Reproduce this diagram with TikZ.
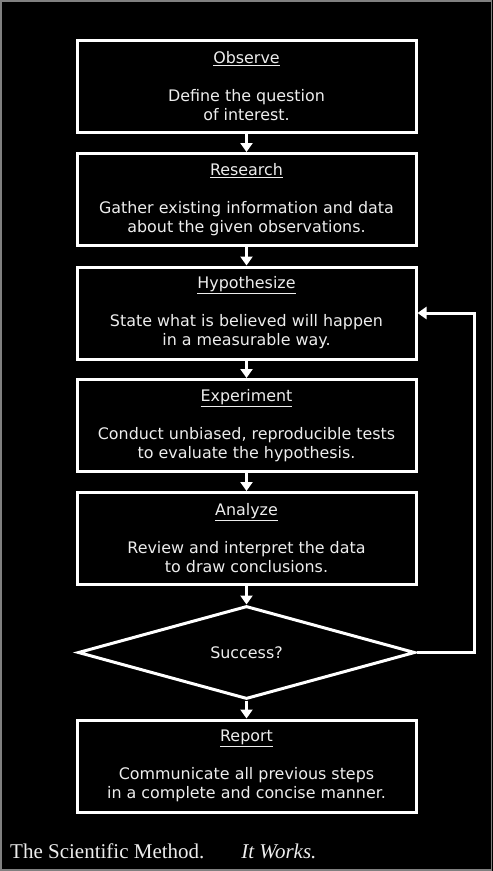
\documentclass[tikz,border=0pt]{standalone}
\usepackage{fontspec}
\setmainfont{Liberation Serif}
\newfontfamily\boxfont{DejaVu Sans}
\usetikzlibrary{shapes.geometric,arrows.meta}
\definecolor{txt}{gray}{0.93}
\tikzset{
  stepbox/.style={draw=white, line width=3pt, fill=black, minimum width=339pt, minimum height=92pt,
    align=center, text=txt, font=\boxfont\fontsize{15.9pt}{19pt}\selectfont, inner sep=0pt},
  decision/.style={draw=white, line width=3pt, diamond, minimum width=337pt, minimum height=93pt,
    text=txt, font=\boxfont\fontsize{15.9pt}{19pt}\selectfont, inner sep=0pt},
  flow/.style={draw=white, line width=3pt, -{Triangle[width=12pt,length=9pt]}},
}
\newcommand\ttl[1]{\underline{#1}\\[19pt]}
\begin{document}
\begin{tikzpicture}[x=1pt,y=-1pt]
\fill[black] (0,0) rectangle (493,871);
\draw[gray, line width=1.5pt] (0.75,0.75) rectangle (491.5,869.8);
\useasboundingbox (0,0) rectangle (493,871);
\node[stepbox] (obs) at (246.5,86) {\ttl{Observe}Define the question\\of interest.};
\node[stepbox] (res) at (246.5,199.5) {\ttl{Research}Gather existing information and data\\about the given observations.};
\node[stepbox] (hyp) at (246.5,313) {\ttl{Hypothesize}State what is believed will happen\\in a measurable way.};
\node[stepbox] (exp) at (246.5,425.5) {\ttl{Experiment}Conduct unbiased, reproducible tests\\to evaluate the hypothesis.};
\node[stepbox] (ana) at (246.5,538.5) {\ttl{Analyze}Review and interpret the data\\to draw conclusions.};
\node[decision] (suc) at (246.5,652.5) {Success?};
\node[stepbox] (rep) at (246.5,766) {\ttl{Report}Communicate all previous steps\\in a complete and concise manner.};
\draw[flow] (obs.south) -- (res.north);
\draw[flow] (res.south) -- (hyp.north);
\draw[flow] (hyp.south) -- (exp.north);
\draw[flow] (exp.south) -- (ana.north);
\draw[flow] (ana.south) -- (suc.north);
\draw[flow] (suc.south) -- (rep.north);
\coordinate (turn) at (474,652.5);
\draw[flow] (suc.east) -- (turn) |- (hyp.east);
\node[anchor=base west, text=txt, font=\fontsize{21pt}{24pt}\selectfont, inner sep=0pt] (cap) at (10,858)
  {The Scientific Method.\hspace{37pt}\textit{It Works.}};
\end{tikzpicture}
\end{document}
